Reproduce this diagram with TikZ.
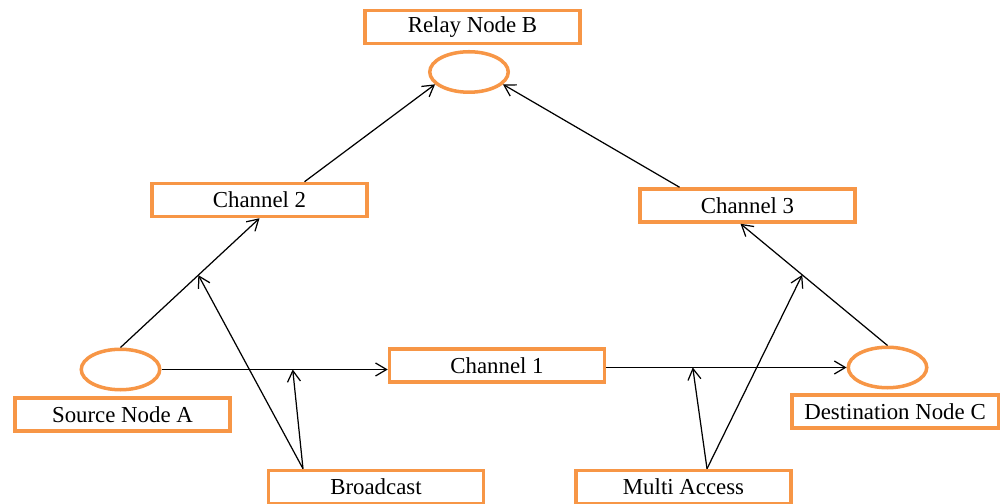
\documentclass[tikz,border=0pt]{standalone}
\usepackage{fontspec}
\setmainfont{Liberation Serif}
\usetikzlibrary{arrows.meta,shapes.geometric}
\definecolor{boxorange}{HTML}{F79646}
\newcommand{\boxline}{2pt}
\newcommand{\linkline}{0.7pt}
\newcommand{\offBC}{-1.46}
\newcommand{\offMA}{0.47}

\begin{document}
\begin{tikzpicture}[font=\fontsize{13}{15}\selectfont,
        >={Straight Barb[length=2.2mm,width=2.6mm]},
        box/.style={draw, rectangle, color=boxorange, text=black, line width=\boxline, minimum width=4.3cm, minimum height=0.66cm, inner sep=0pt},
        dot/.style={draw, ellipse, color=boxorange, line width=\boxline, minimum width=1.57cm, minimum height=0.81cm, inner sep=0pt},
        link/.style={->, line width=\linkline}]
        \useasboundingbox (0,0) rectangle (20.04,10.08);

        %boxes
        \node[box, name=relB  ] at ( 9.45,9.54) {Relay Node B};
        \node[box, name=ch2   ] at ( 5.19,6.08) {Channel 2};
        \node[box, name=ch3   ] at (14.95,5.97) {Channel 3};
        \node[box, name=ch1   ] at ( 9.94,2.77) {Channel 1};
        \node[box, name=srcA  ] at ( 2.45,1.79) {Source Node A};
        \node[box, name=destC , minimum width=4.13cm] at (17.90,1.85) {Destination Node C};
        \node[box, name=bcast ] at ( 7.52,0.34) {Broadcast};
        \node[box, name=multi ] at (13.67,0.34) {Multi Access};

        %nodes
        \node[dot, name=rel ] at ( 9.38,8.64) {};
        \node[dot, name=src ] at ( 2.41,2.69) {};
        \node[dot, name=dest] at (17.75,2.73) {};

        %links
        \draw[link] (src.north) -- coordinate[pos=0.56] (onch2) (ch2.south);
        \draw[link] (src.east) -- coordinate[pos=0.58] (onch1a) (src.east -| ch1.west);
        \draw[link] (ch1.east |- dest.west) -- coordinate[pos=0.36] (onch1b) (dest.west);
        \draw[link] (dest.north) -- coordinate[pos=0.58] (onch3) ([xshift=-0.14cm]ch3.south);
        \draw[link] ([xshift=0.9cm]ch2.north) -- (rel.200);
        \draw[link] ([xshift=-1.36cm]ch3.north) -- (rel.340);

        %access
        \draw[link] ([xshift=\offBC cm]bcast.north) -- (onch1a);
        \draw[link] ([xshift=\offBC cm]bcast.north) -- (onch2);
        \draw[link] ([xshift=\offMA cm]multi.north) -- (onch1b);
        \draw[link] ([xshift=\offMA cm]multi.north) -- (onch3);
    \end{tikzpicture}
\end{document}
